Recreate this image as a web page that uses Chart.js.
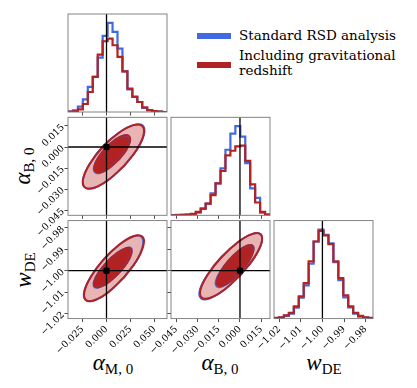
<!DOCTYPE html>
<html>
<head>
<meta charset="utf-8">
<script src="https://cdn.jsdelivr.net/npm/chart.js@4.4.1/dist/chart.umd.min.js"></script>
<style>
  body { margin: 0; background: #fff; }
  #wrap { position: relative; width: 417px; height: 388px; overflow: hidden; }
  canvas { position: absolute; left: 0; top: 0; }
  .lab { position: absolute; font-family: "Liberation Serif", serif; color: #000; white-space: nowrap; line-height: 1; }
  .lab i { font-size: 23px; }
  .lab .sub { font-size: 15px; position: relative; top: 4px; }
  .ytitle { transform: translate(-50%, -50%) rotate(-90deg); }
  .xtitle { transform: translate(-50%, -50%); }
  .key { position: absolute; width: 34px; height: 6px; }
  .ktxt { position: absolute; font-family: "DejaVu Serif", serif; font-size: 13.5px; color: #000; white-space: nowrap; line-height: 14.5px; }
</style>
</head>
<body>
<div id="wrap">
  <div class="lab ytitle" style="left:22px;top:166px"><i>α</i><span class="sub">B, 0</span></div>
  <div class="lab ytitle" style="left:23px;top:270px"><i>w</i><span class="sub">DE</span></div>
  <div class="lab xtitle" style="left:113px;top:362px"><i>α</i><span class="sub">M, 0</span></div>
  <div class="lab xtitle" style="left:220px;top:362px"><i>α</i><span class="sub">B, 0</span></div>
  <div class="lab xtitle" style="left:324px;top:362px"><i>w</i><span class="sub">DE</span></div>
  <div class="key" style="left:197px;top:32.5px;background:#4169e1"></div>
  <div class="key" style="left:197px;top:61.7px;background:#b22222"></div>
  <div class="ktxt" id="leg0" style="left:239px;top:28px"></div>
  <div class="ktxt" id="leg1" style="left:239px;top:48.3px"></div>
</div>
<script>
// axis ranges and ticks
const alphaMRange = [-0.0401, 0.0630];
const alphaBRange = [-0.0487, 0.0212];
const wDERange = [-1.0224, -0.9766];
const alphaMTicks = [-0.025, 0.0, 0.025, 0.05];
const alphaBTicks = [-0.045, -0.03, -0.015, 0.0, 0.015];
const wDETicks = [-1.02, -1.01, -1.0, -0.99, -0.98];
const truthAlphaM = 0.0;
const truthAlphaB = 0.0;
const truthWDE = -1.0;
const seriesLabels = ["Standard RSD analysis", "Including gravitational\nredshift"];

// 1D histograms, 20 bins over each axis range
const histAlphaMStd  = [1, 5, 16, 38, 75, 105, 163, 228, 267, 240, 190, 122, 68, 45, 30, 12, 5, 2, 1, 0];
const histAlphaMGrav = [1, 2, 8, 24, 60, 105, 172, 212, 220, 200, 165, 122, 70, 46, 30, 14, 6, 3, 1, 0];
const histAlphaBStd  = [0, 1, 1, 2, 3, 8, 20, 35, 65, 95, 140, 195, 243, 265, 234, 155, 80, 52, 8, 2];
const histAlphaBGrav = [0, 0, 1, 2, 4, 10, 20, 35, 60, 95, 132, 178, 192, 205, 207, 162, 92, 38, 10, 2];
const histWDEStd  = [1, 3, 8, 15, 33, 63, 100, 165, 232, 268, 252, 226, 170, 116, 64, 34, 15, 6, 3, 1];
const histWDEGrav = [2, 4, 10, 17, 37, 67, 107, 172, 232, 264, 250, 224, 172, 122, 70, 37, 17, 8, 4, 2];

// 2D contours (inner / outer level), [x, y]
const ctrMB_grav_out = [[0.0179,-0.0138],[0.0315,-0.0019],[0.0386,0.0086],[0.0372,0.0150],[0.0279,0.0156],[0.0129,0.0102],[-0.0036,0.0002],[-0.0172,-0.0117],[-0.0242,-0.0222],[-0.0229,-0.0286],[-0.0135,-0.0292],[0.0015,-0.0237]];
const ctrMB_std_out  = [[0.0179,-0.0138],[0.0315,-0.0019],[0.0390,0.0089],[0.0377,0.0154],[0.0279,0.0156],[0.0129,0.0102],[-0.0040,0.0005],[-0.0172,-0.0117],[-0.0242,-0.0222],[-0.0229,-0.0286],[-0.0135,-0.0292],[0.0015,-0.0237]];
const ctrMB_grav_in  = [[0.0125,-0.0091],[0.0204,-0.0022],[0.0244,0.0040],[0.0234,0.0078],[0.0178,0.0083],[0.0090,0.0052],[-0.0006,-0.0006],[-0.0085,-0.0075],[-0.0125,-0.0137],[-0.0115,-0.0175],[-0.0059,-0.0180],[0.0029,-0.0149]];
const ctrMB_std_in   = [[0.0125,-0.0091],[0.0204,-0.0022],[0.0244,0.0040],[0.0230,0.0076],[0.0178,0.0083],[0.0090,0.0052],[-0.0006,-0.0006],[-0.0085,-0.0075],[-0.0130,-0.0141],[-0.0119,-0.0180],[-0.0061,-0.0184],[0.0029,-0.0149]];

const ctrMW_grav_out = [[0.0183,-1.00310],[0.0316,-0.99511],[0.0385,-0.98813],[0.0373,-0.98403],[0.0281,-0.98391],[0.0135,-0.98779],[-0.0027,-0.99464],[-0.0160,-1.00263],[-0.0229,-1.00961],[-0.0216,-1.01371],[-0.0124,-1.01383],[0.0022,-1.00995]];
const ctrMW_std_out  = [[0.0183,-1.00310],[0.0316,-0.99511],[0.0378,-0.98840],[0.0366,-0.98430],[0.0281,-0.98391],[0.0135,-0.98779],[-0.0027,-0.99464],[-0.0160,-1.00263],[-0.0233,-1.00975],[-0.0216,-1.01371],[-0.0124,-1.01383],[0.0022,-1.00995]];
const ctrMW_grav_in  = [[0.0127,-1.00120],[0.0212,-0.99642],[0.0257,-0.99221],[0.0252,-0.98972],[0.0196,-0.98960],[0.0106,-0.99189],[0.0004,-0.99598],[-0.0081,-1.00076],[-0.0126,-1.00497],[-0.0120,-1.00746],[-0.0065,-1.00758],[0.0026,-1.00529]];
const ctrMW_std_in   = [[0.0127,-1.00120],[0.0212,-0.99642],[0.0257,-0.99221],[0.0256,-0.98950],[0.0196,-0.98960],[0.0106,-0.99189],[0.0004,-0.99598],[-0.0081,-1.00076],[-0.0131,-1.00510],[-0.0125,-1.00770],[-0.0065,-1.00758],[0.0026,-1.00529]];

const ctrBW_grav_out = [[0.0005,-1.00195],[0.0100,-0.99402],[0.0152,-0.98709],[0.0146,-0.98303],[0.0084,-0.98293],[-0.0017,-0.98680],[-0.0130,-0.99363],[-0.0225,-1.00156],[-0.0277,-1.00849],[-0.0271,-1.01255],[-0.0209,-1.01265],[-0.0108,-1.00878]];
const ctrBW_std_out  = [[0.0005,-1.00195],[0.0100,-0.99402],[0.0152,-0.98709],[0.0146,-0.98303],[0.0084,-0.98293],[-0.0017,-0.98680],[-0.0130,-0.99363],[-0.0225,-1.00156],[-0.0282,-1.00870],[-0.0276,-1.01285],[-0.0212,-1.01290],[-0.0108,-1.00878]];
const ctrBW_grav_in  = [[0.0010,-1.00018],[0.0065,-0.99519],[0.0094,-0.99087],[0.0088,-0.98836],[0.0050,-0.98834],[-0.0011,-0.99082],[-0.0078,-0.99512],[-0.0133,-1.00011],[-0.0162,-1.00443],[-0.0156,-1.00694],[-0.0118,-1.00696],[-0.0057,-1.00448]];
const ctrBW_std_in   = [[0.0010,-1.00018],[0.0065,-0.99519],[0.0094,-0.99087],[0.0088,-0.98836],[0.0050,-0.98834],[-0.0011,-0.99082],[-0.0078,-0.99512],[-0.0138,-1.00030],[-0.0170,-1.00475],[-0.0163,-1.00735],[-0.0123,-1.00735],[-0.0057,-1.00448]];

// layout
const colLeft = [68, 171, 274];
const rowTop = [14, 117.3, 220.6];
const cellW = 99, cellH = 98;
const AXIS_W = 60, AXIS_H = 45;
const BLUE = "#4169e1", RED = "#b22222", PINK = "#e8b4b4";

document.getElementById("leg0").textContent = seriesLabels[0];
document.getElementById("leg1").innerHTML = seriesLabels[1].replace("\n", "<br>");

const wrap = document.getElementById("wrap");

// box around every panel
const frame = {
  id: "frame",
  afterDraw(chart) {
    const { ctx, chartArea: a } = chart;
    ctx.save();
    ctx.strokeStyle = "#777";
    ctx.lineWidth = 0.9;
    ctx.strokeRect(a.left, a.top, a.right - a.left, a.bottom - a.top);
    ctx.restore();
  },
};

const fmt3 = (v) => v.toFixed(3).replace("-", "\u2212");
const fmt2 = (v) => v.toFixed(2).replace("-", "\u2212");

function axis(pos, range, ticks, fmt, labels) {
  return {
    type: "linear",
    position: pos,
    min: range[0],
    max: range[1],
    afterBuildTicks: (s) => { s.ticks = ticks.map((v) => ({ value: v })); },
    afterFit: (s) => { if (pos === "bottom") s.height = AXIS_H; else s.width = AXIS_W; },
    grid: { display: true, drawOnChartArea: false, tickLength: 3.5, color: "#222", lineWidth: 0.8 },
    border: { display: false },
    ticks: {
      display: labels, autoSkip: false, minRotation: 45, maxRotation: 45, padding: 1.5,
      color: "#000", font: { family: "DejaVu Serif", size: 9.5 }, callback: fmt,
    },
  };
}

function histAxis(counts) {
  return { type: "linear", display: false, min: 0, max: 1.1 * Math.max(...counts) };
}

const stepPoints = (range, counts) => {
  const w = (range[1] - range[0]) / counts.length;
  const pts = [{ x: range[0], y: 0 }];
  counts.forEach((c, i) => pts.push({ x: range[0] + i * w, y: c }));
  pts.push({ x: range[1], y: counts[counts.length - 1] });
  pts.push({ x: range[1], y: 0 });
  return pts;
};

const closed = (arr) => arr.concat([arr[0]]).map((p) => ({ x: p[0], y: p[1] }));

const histSet = (pts, color, order) => ({
  data: pts, borderColor: color, borderWidth: 2.2, stepped: true, pointRadius: 0,
  borderJoinStyle: "miter", order: order,
});

const vline = (x, yr) => ({
  data: [{ x: x, y: yr[0] }, { x: x, y: yr[1] }], borderColor: "#000", borderWidth: 1.3, pointRadius: 0, order: -1,
});
const hline = (y, xr) => ({
  data: [{ x: xr[0], y: y }, { x: xr[1], y: y }], borderColor: "#000", borderWidth: 1.3, pointRadius: 0, order: -1,
});

function contourSets(outG, inG, outS, inS, tx, ty, xr, yr) {
  return [
    { data: [{ x: tx, y: ty }], showLine: false, pointStyle: "rect", pointRadius: 3.6, backgroundColor: "#000", borderColor: "#000", order: -2 },
    vline(tx, yr),
    hline(ty, xr),
    { data: closed(inG), borderColor: RED, borderWidth: 2, tension: 0.4, pointRadius: 0, order: 1 },
    { data: closed(outG), borderColor: RED, borderWidth: 2, tension: 0.4, pointRadius: 0, order: 2 },
    { data: closed(inS), borderColor: BLUE, borderWidth: 2, tension: 0.4, pointRadius: 0, order: 3 },
    { data: closed(outS), borderColor: BLUE, borderWidth: 2, tension: 0.4, pointRadius: 0, order: 4 },
    { data: closed(inG), borderColor: "transparent", backgroundColor: RED, fill: "shape", tension: 0.4, pointRadius: 0, order: 5 },
    { data: closed(outG), borderColor: "transparent", backgroundColor: PINK, fill: "shape", tension: 0.4, pointRadius: 0, order: 6 },
  ];
}

function drawPanel(col, row, xAxis, yAxis, datasets) {
  const canvas = document.createElement("canvas");
  canvas.width = 417;
  canvas.height = 388;
  wrap.appendChild(canvas);
  const left = colLeft[col], top = rowTop[row];
  const padLeft = yAxis.display === false ? left : left - AXIS_W;
  new Chart(canvas, {
    type: "line",
    data: { datasets: datasets },
    options: {
      responsive: false,
      animation: false,
      events: [],
      layout: { padding: { left: padLeft, top: top, right: 417 - left - cellW, bottom: 388 - top - cellH - AXIS_H } },
      scales: { x: xAxis, y: yAxis },
      plugins: { legend: { display: false }, tooltip: { enabled: false } },
    },
    plugins: [frame],
  });
}

// alpha_M histogram
drawPanel(0, 0, axis("bottom", alphaMRange, alphaMTicks, fmt3, false),
  histAxis(histAlphaMStd.concat(histAlphaMGrav)), [
    vline(truthAlphaM, [0, 1.1 * Math.max(...histAlphaMStd, ...histAlphaMGrav)]),
    histSet(stepPoints(alphaMRange, histAlphaMGrav), RED, 0),
    histSet(stepPoints(alphaMRange, histAlphaMStd), BLUE, 1),
  ]);

// alpha_B vs alpha_M
drawPanel(0, 1, axis("bottom", alphaMRange, alphaMTicks, fmt3, false),
  axis("left", alphaBRange, alphaBTicks, fmt3, true),
  contourSets(ctrMB_grav_out, ctrMB_grav_in, ctrMB_std_out, ctrMB_std_in, truthAlphaM, truthAlphaB, alphaMRange, alphaBRange));

// alpha_B histogram
drawPanel(1, 1, axis("bottom", alphaBRange, alphaBTicks, fmt3, false),
  histAxis(histAlphaBStd.concat(histAlphaBGrav)), [
    vline(truthAlphaB, [0, 1.1 * Math.max(...histAlphaBStd, ...histAlphaBGrav)]),
    histSet(stepPoints(alphaBRange, histAlphaBGrav), RED, 0),
    histSet(stepPoints(alphaBRange, histAlphaBStd), BLUE, 1),
  ]);

// w_DE vs alpha_M
drawPanel(0, 2, axis("bottom", alphaMRange, alphaMTicks, fmt3, true),
  axis("left", wDERange, wDETicks, fmt2, true),
  contourSets(ctrMW_grav_out, ctrMW_grav_in, ctrMW_std_out, ctrMW_std_in, truthAlphaM, truthWDE, alphaMRange, wDERange));

// w_DE vs alpha_B
drawPanel(1, 2, axis("bottom", alphaBRange, alphaBTicks, fmt3, true),
  axis("left", wDERange, wDETicks, fmt2, false),
  contourSets(ctrBW_grav_out, ctrBW_grav_in, ctrBW_std_out, ctrBW_std_in, truthAlphaB, truthWDE, alphaBRange, wDERange));

// w_DE histogram
drawPanel(2, 2, axis("bottom", wDERange, wDETicks, fmt2, true),
  histAxis(histWDEStd.concat(histWDEGrav)), [
    vline(truthWDE, [0, 1.1 * Math.max(...histWDEStd, ...histWDEGrav)]),
    histSet(stepPoints(wDERange, histWDEGrav), RED, 0),
    histSet(stepPoints(wDERange, histWDEStd), BLUE, 1),
  ]);
</script>
</body>
</html>
